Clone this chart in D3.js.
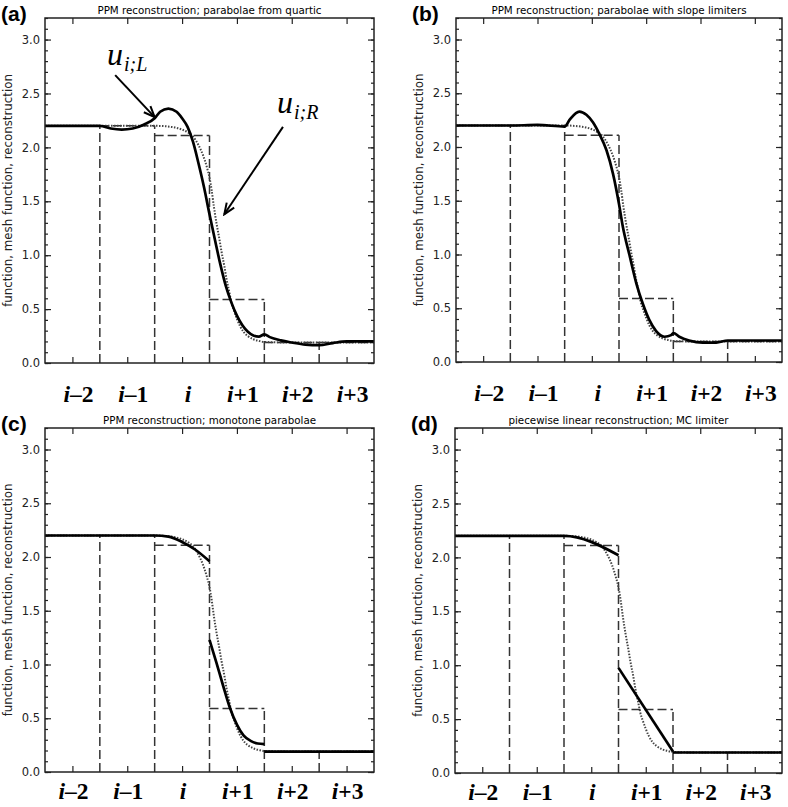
<!DOCTYPE html>
<html>
<head>
<meta charset="utf-8">
<script src="https://cdn.jsdelivr.net/npm/d3@7"></script>
<style>
  body { margin: 0; background: #fff; }
  svg { display: block; }
</style>
</head>
<body>
<div id="chart"></div>
<script>
// cells and mesh function (cell averages)
const cellNames = ["i–2", "i–1", "i", "i+1", "i+2", "i+3"];
const cellCenters = [-2, -1, 0, 1, 2, 3];
const cellEdges = [-2.5, -1.5, -0.5, 0.5, 1.5, 2.5, 3.5];
const meshValues = [2.2, 2.2, 2.11, 0.59, 0.19, 0.19];

const yMajor = [0, 0.5, 1.0, 1.5, 2.0, 2.5, 3.0];
const yMinor = [0, 0.1, 0.2, 0.3, 0.4, 0.5, 0.6, 0.7, 0.8, 0.9, 1.0, 1.1, 1.2, 1.3, 1.4, 1.5,
  1.6, 1.7, 1.8, 1.9, 2.0, 2.1, 2.2, 2.3, 2.4, 2.5, 2.6, 2.7, 2.8, 2.9, 3.0, 3.1, 3.2];

// the exact function (dotted), same in every panel
const exactX = [-2.5, -0.5, -0.2, 0, 0.1, 0.2, 0.3, 0.38, 0.45, 0.5, 0.54, 0.58, 0.63, 0.68, 0.72,
  0.77, 0.81, 0.86, 0.9, 0.95, 1.0, 1.06, 1.12, 1.2, 1.3, 1.4, 1.5, 2.0, 3.5];
const exactY = [2.2, 2.2, 2.19, 2.165, 2.14, 2.1, 2.02, 1.93, 1.82, 1.72, 1.6, 1.45, 1.29, 1.15, 1.03,
  0.9, 0.78, 0.66, 0.56, 0.48, 0.41, 0.34, 0.29, 0.25, 0.22, 0.205, 0.195, 0.19, 0.19];

// reconstructions (solid), one list of pieces per panel
const recA = [[
  [-2.5, 2.2], [-1.5, 2.2], [-1.3, 2.175], [-1.1, 2.165], [-0.9, 2.175], [-0.7, 2.21], [-0.5, 2.27],
  [-0.4, 2.33], [-0.25, 2.36], [-0.1, 2.33], [0.0, 2.27], [0.1, 2.19], [0.2, 2.05], [0.3, 1.85],
  [0.4, 1.63], [0.5, 1.38], [0.6, 1.14], [0.7, 0.91], [0.8, 0.71], [0.9, 0.56], [1.0, 0.44],
  [1.1, 0.35], [1.2, 0.29], [1.3, 0.255], [1.4, 0.245], [1.5, 0.265], [1.6, 0.24], [1.8, 0.21],
  [2.0, 0.19], [2.25, 0.17], [2.5, 0.165], [2.75, 0.185], [3.0, 0.2], [3.5, 0.2]
]];
const recB = [[
  [-2.5, 2.2], [-1.5, 2.2], [-1.0, 2.205], [-0.5, 2.19], [-0.4, 2.26], [-0.23, 2.33], [-0.1, 2.3],
  [0.02, 2.23], [0.14, 2.12], [0.27, 1.97], [0.39, 1.75], [0.5, 1.47], [0.57, 1.26], [0.7, 0.98],
  [0.82, 0.73], [0.94, 0.54], [1.06, 0.39], [1.18, 0.29], [1.34, 0.235], [1.46, 0.25], [1.5, 0.27],
  [1.61, 0.235], [1.79, 0.2], [2.04, 0.18], [2.29, 0.18], [2.5, 0.2], [3.5, 0.2]
]];
const recC = [
  [[-2.5, 2.2], [-0.5, 2.2], [-0.25, 2.19], [0, 2.14], [0.25, 2.065], [0.5, 1.96]],
  [[0.5, 1.23], [0.63, 1.01], [0.75, 0.8], [0.87, 0.6], [1.0, 0.44], [1.12, 0.34], [1.25, 0.29],
   [1.38, 0.265], [1.5, 0.26]],
  [[1.5, 0.19], [3.5, 0.19]]
];
const recD = [
  [[-2.5, 2.2], [-0.5, 2.2], [0.5, 2.02]],
  [[0.5, 0.975], [1.5, 0.2]],
  [[1.5, 0.19], [3.5, 0.19]]
];

const panelLetters = ["(a)", "(b)", "(c)", "(d)"];
const panelTitles = [
  "PPM reconstruction; parabolae from quartic",
  "PPM reconstruction; parabolae with slope limiters",
  "PPM reconstruction; monotone parabolae",
  "piecewise linear reconstruction; MC limiter"
];
const reconstructions = [recA, recB, recC, recD];

// annotations of panel (a): label anchor, arrow tail, arrow tip (data units)
const notes = [
  { sub: "i;L", text: [-1.37, 2.76], from: [-1.22, 2.67], to: [-0.5, 2.28] },
  { sub: "i;R", text: [1.73, 2.32], from: [1.84, 2.19], to: [0.77, 1.38] }
];

// frame boxes in pixels
const frames = [
  { left: 45, right: 374, top: 18, bottom: 363, labelY: 402, labelDx: 6 },
  { left: 456, right: 782, top: 18, bottom: 362, labelY: 401, labelDx: 6 },
  { left: 45, right: 374, top: 428, bottom: 772, labelY: 799, labelDx: 1 },
  { left: 455, right: 782, top: 428, bottom: 773, labelY: 800, labelDx: 1 }
];

const width = 788, height = 807;
const svg = d3.select("#chart").append("svg")
  .attr("width", width)
  .attr("height", height);

svg.append("defs").append("marker")
  .attr("id", "head")
  .attr("viewBox", "-12 -6 14 12")
  .attr("refX", 0).attr("refY", 0)
  .attr("markerWidth", 14).attr("markerHeight", 12)
  .attr("markerUnits", "userSpaceOnUse")
  .attr("orient", "auto")
  .append("path")
  .attr("d", "M-11,-4.5 L0,0 L-11,4.5")
  .attr("fill", "none")
  .attr("stroke", "#000")
  .attr("stroke-width", 2);

const sans = "'DejaVu Sans', sans-serif";
const serif = "'Liberation Serif', 'Times New Roman', serif";

frames.forEach((f, p) => {
  const g = svg.append("g");

  const x = d3.scaleLinear().domain([-2.5, 3.5]).range([f.left, f.right]);
  const y = d3.scaleLinear().domain([0, 3.2]).range([f.bottom, f.top]);

  // axes: ticks point into the box
  const yLeft = g.append("g")
    .attr("transform", `translate(${f.left},0)`)
    .call(d3.axisLeft(y).tickValues(yMajor).tickSize(-6).tickPadding(5).tickFormat(d3.format(".1f")));
  yLeft.selectAll("text").style("font-family", sans).style("font-size", "11.5px").attr("fill", "#222");
  g.append("g")
    .attr("transform", `translate(${f.left},0)`)
    .call(d3.axisLeft(y).tickValues(yMinor).tickSize(-3).tickFormat(""));
  g.append("g")
    .attr("transform", `translate(${f.right},0)`)
    .call(d3.axisRight(y).tickValues(yMajor).tickSize(-6).tickFormat(""));
  g.append("g")
    .attr("transform", `translate(${f.right},0)`)
    .call(d3.axisRight(y).tickValues(yMinor).tickSize(-3).tickFormat(""));
  g.append("g")
    .attr("transform", `translate(0,${f.top})`)
    .call(d3.axisTop(x).tickValues(cellCenters).tickSize(-6).tickFormat(""));
  g.append("g")
    .attr("transform", `translate(0,${f.bottom})`)
    .call(d3.axisBottom(x).tickValues(cellCenters).tickSize(-6).tickFormat(""));
  g.selectAll(".domain").remove();
  g.selectAll(".tick line").attr("stroke", "#222").attr("stroke-width", 1.2);

  // mesh function, dashed
  const mesh = g.append("g")
    .attr("fill", "none")
    .attr("stroke", "#333")
    .attr("stroke-width", 1.5)
    .attr("stroke-dasharray", "9,4");
  meshValues.forEach((v, i) => {
    mesh.append("line")
      .attr("x1", x(cellEdges[i])).attr("x2", x(cellEdges[i + 1]))
      .attr("y1", y(v)).attr("y2", y(v));
  });
  cellEdges.slice(1, -1).forEach((e, i) => {
    mesh.append("line")
      .attr("x1", x(e)).attr("x2", x(e))
      .attr("y1", y(0)).attr("y2", y(Math.max(meshValues[i], meshValues[i + 1])));
  });

  const line = d3.line()
    .x(d => x(d[0]))
    .y(d => y(d[1]))
    .curve(d3.curveMonotoneX);

  // exact function, dotted
  g.append("path")
    .datum(exactX.map((d, i) => [d, exactY[i]]))
    .attr("d", line)
    .attr("fill", "none")
    .attr("stroke", "#444")
    .attr("stroke-width", 2)
    .attr("stroke-dasharray", "1.5,1.5");

  // reconstruction, solid
  g.selectAll(".rec")
    .data(reconstructions[p])
    .enter().append("path")
    .attr("class", "rec")
    .attr("d", line)
    .attr("fill", "none")
    .attr("stroke", "#000")
    .attr("stroke-width", 2.7)
    .attr("stroke-linejoin", "round");

  // frame
  g.append("rect")
    .attr("x", f.left).attr("y", f.top)
    .attr("width", f.right - f.left).attr("height", f.bottom - f.top)
    .attr("fill", "none")
    .attr("stroke", "#222")
    .attr("stroke-width", 1.5);

  // title
  g.append("text")
    .attr("x", (f.left + f.right) / 2)
    .attr("y", f.top - 4)
    .attr("text-anchor", "middle")
    .style("font-family", sans)
    .style("font-size", "10.3px")
    .text(panelTitles[p]);

  // panel letter
  g.append("text")
    .attr("x", f.left - 44)
    .attr("y", f.top + 3)
    .style("font-family", "'Liberation Sans', Arial, sans-serif")
    .style("font-size", "21px")
    .style("font-weight", "bold")
    .text(panelLetters[p]);

  // y axis title
  g.append("text")
    .attr("transform", `translate(${f.left - 33},${(f.top + f.bottom) / 2}) rotate(-90)`)
    .attr("text-anchor", "middle")
    .style("font-family", sans)
    .style("font-size", "11.8px")
    .attr("fill", "#222")
    .text("function, mesh function, reconstruction");

  // cell names under the axis
  const names = g.selectAll(".cell")
    .data(cellNames)
    .enter().append("text")
    .attr("class", "cell")
    .attr("x", (d, i) => x(cellCenters[i]) + f.labelDx)
    .attr("y", f.labelY)
    .attr("text-anchor", "middle")
    .style("font-family", serif)
    .style("font-size", "23.5px")
    .style("font-weight", "bold");
  names.append("tspan").style("font-style", "italic").text(d => d.slice(0, 1));
  names.append("tspan").text(d => d.slice(1));

  // arrows with u labels, panel (a) only
  if (p === 0) {
    notes.forEach(n => {
      g.append("line")
        .attr("x1", x(n.from[0])).attr("y1", y(n.from[1]))
        .attr("x2", x(n.to[0])).attr("y2", y(n.to[1]))
        .attr("stroke", "#000")
        .attr("stroke-width", 2)
        .attr("marker-end", "url(#head)");
      const t = g.append("text")
        .attr("x", x(n.text[0]))
        .attr("y", y(n.text[1]))
        .style("font-family", serif)
        .style("font-style", "italic");
      t.append("tspan").style("font-size", "32px").text("u");
      t.append("tspan").attr("dy", 6).attr("dx", 1).style("font-size", "20px").text(n.sub);
    });
  }
});
</script>
</body>
</html>
